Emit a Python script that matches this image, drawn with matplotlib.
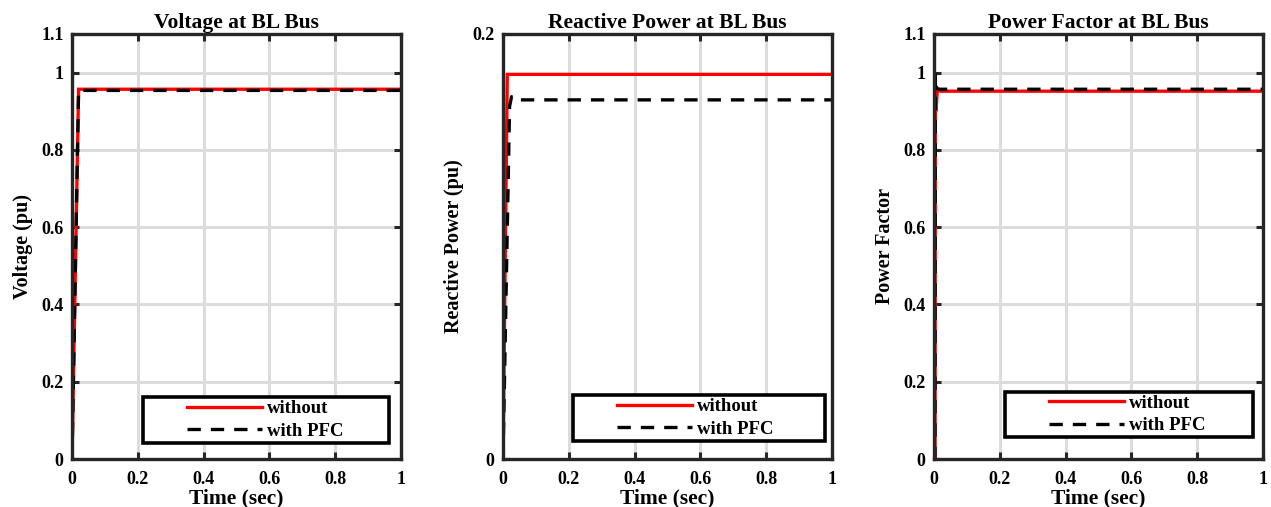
import matplotlib
matplotlib.use("Agg")
from matplotlib import pyplot as plt
from matplotlib.patches import Rectangle

# ---- data ----
volt_t = [0, 0.02, 1.0]
volt_without = [0, 0.957, 0.957]
volt_pfc = [0, 0.954, 0.954]

q_t_without = [0, 0.013, 1.0]
q_without = [0, 0.181, 0.181]
q_t_pfc = [0, 0.02, 0.026, 0.035, 1.0]
q_pfc = [0, 0.166, 0.1705, 0.169, 0.169]

pf_t = [0, 0.003, 0.004, 0.006, 0.01, 0.02, 1.0]
pf_without = [0, 0, 0.96, 0.9, 0.955, 0.952, 0.952]
pf_pfc = [0, 0, 0.995, 0.965, 0.958, 0.957, 0.957]

x_ticks = [0, 0.2, 0.4, 0.6, 0.8, 1]
x_labels = ["0", "0.2", "0.4", "0.6", "0.8", "1"]
y_ticks_pu = [0, 0.2, 0.4, 0.6, 0.8, 1, 1.1]
y_labels_pu = ["0", "0.2", "0.4", "0.6", "0.8", "1", "1.1"]
y_ticks_q = [0, 0.2]
y_labels_q = ["0", "0.2"]

titles = ["Voltage at BL Bus", "Reactive Power at BL Bus", "Power Factor at BL Bus"]
ylabels = ["Voltage (pu)", "Reactive Power (pu)", "Power Factor"]
legend_names = ["without", "with PFC"]

plt.rcParams["font.family"] = ["Liberation Serif", "DejaVu Serif"]
plt.rcParams["font.weight"] = "bold"

SPINE = "#262626"
GRID = "#dcdcdc"

fig = plt.figure(figsize=(12.71, 5.07), dpi=100)
lefts = [72, 503, 934]
axes = [fig.add_axes([l / 1271, 48 / 507, 329 / 1271, 425 / 507]) for l in lefts]

series = [
    (volt_t, volt_without, volt_t, volt_pfc),
    (q_t_without, q_without, q_t_pfc, q_pfc),
    (pf_t, pf_without, pf_t, pf_pfc),
]
yinfo = [
    (1.1, y_ticks_pu, y_labels_pu),
    (0.2, y_ticks_q, y_labels_q),
    (1.1, y_ticks_pu, y_labels_pu),
]
# legend frame (axes fraction): left, bottom, right, top
boxes = [
    (0.216, 0.038, 0.964, 0.145),
    (0.213, 0.042, 0.979, 0.151),
    (0.216, 0.052, 0.970, 0.158),
]

for ax, (t1, y1, t2, y2), (ymax, yt, yl), title, ylab, box in zip(
        axes, series, yinfo, titles, ylabels, boxes):
    l1, = ax.plot(t1, y1, color="red", lw=2.4, solid_joinstyle="miter")
    l2, = ax.plot(t2, y2, color="black", lw=2.4, dashes=(4, 3))
    ax.set_xlim(0, 1)
    ax.set_ylim(0, ymax)
    ax.set_xticks(x_ticks)
    ax.set_xticklabels(x_labels)
    ax.set_yticks(yt)
    ax.set_yticklabels(yl)
    ax.grid(True, color=GRID, lw=2.2)
    ax.set_axisbelow(True)
    ax.tick_params(direction="in", length=5, width=2.2, color=SPINE,
                   top=True, right=True, labelsize=13)
    ax.tick_params(axis="x", pad=9)
    ax.tick_params(axis="y", pad=6)
    for s in ax.spines.values():
        s.set_linewidth(2.4)
        s.set_color(SPINE)
    ax.set_title(title, fontsize=15.5, fontweight="bold", pad=4)
    ax.set_ylabel(ylab, fontsize=14.5, fontweight="bold", labelpad=6)
    ax.set_xlabel("Time (sec)", fontsize=15.5, fontweight="bold", labelpad=0)

    x0, b0, x1, b1 = box
    ax.add_patch(Rectangle((x0, b0), x1 - x0, b1 - b0, transform=ax.transAxes,
                           facecolor="white", edgecolor="black", lw=2.6, zorder=5))
    leg = ax.legend([l1, l2], legend_names, loc="center left",
                    bbox_to_anchor=(x0 + 0.105, (b0 + b1) / 2),
                    frameon=False, fontsize=13.5, handlelength=4.0,
                    handletextpad=0.25, labelspacing=0.3, borderpad=0)
    leg.set_zorder(6)

fig.savefig("out.png", dpi=100)
